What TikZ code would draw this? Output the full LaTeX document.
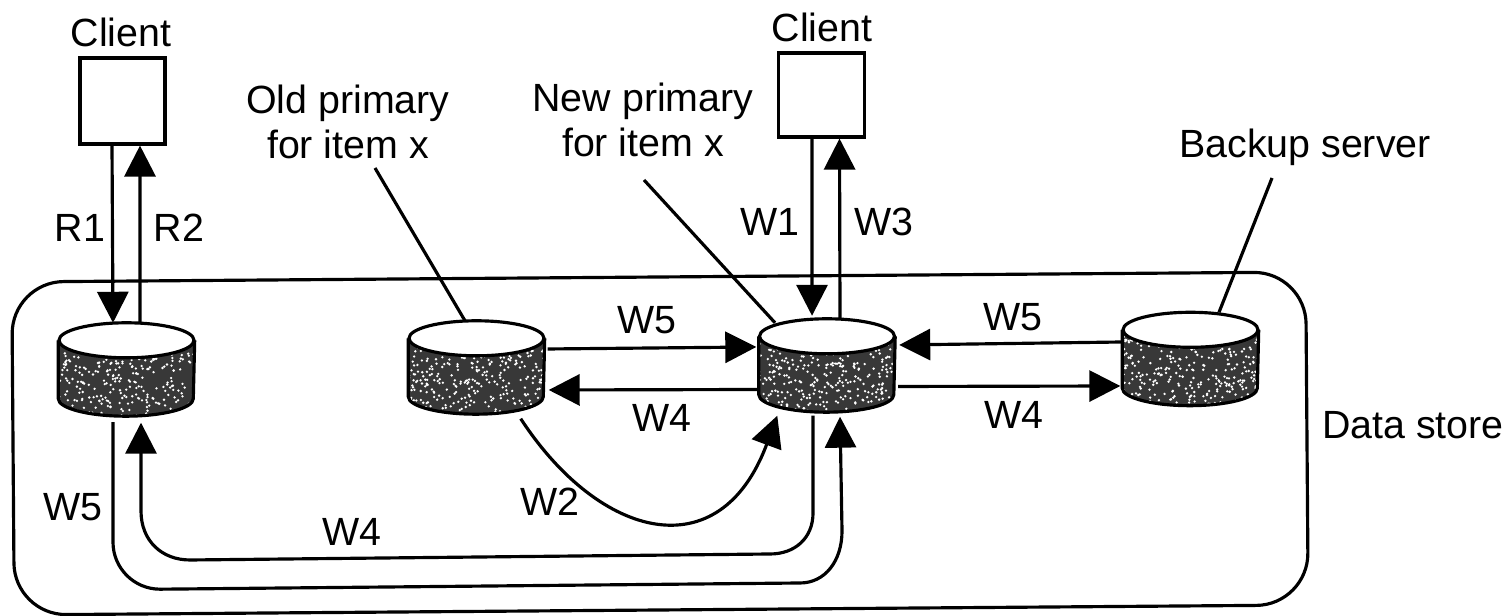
\documentclass[tikz,border=0pt]{standalone}
\usepackage{fontspec}
\setmainfont{Liberation Sans}
\usepackage{xcolor}
\usetikzlibrary{arrows.meta,positioning,calc}
\definecolor{diskgray}{gray}{0.22}
\tikzset{
  lbl/.style={font=\fontsize{11.2}{12.8}\selectfont,inner sep=0pt,align=center},
  hostbox/.style={draw,line width=.9pt,fill=white,inner sep=0pt},
  diskbox/.style={inner sep=0pt,minimum width=1.35cm,minimum height=.92cm},
  msg/.style={line width=.9pt,-{Triangle[length=3.1mm,width=3.1mm]}},
  plain/.style={line width=.9pt}
}
\begin{document}
\begin{tikzpicture}[>=Stealth]
\useasboundingbox (0,0) rectangle (15.11,6.16);
\pgfmathsetseed{42}
\node[draw,line width=.9pt,rounded corners=.52cm,inner sep=0pt,minimum width=12.94cm,minimum height=3.33cm,rotate=.44] (store) at (6.60,1.725) {};
% clients
\node[hostbox,minimum width=.85cm,minimum height=.86cm] (c1) at (1.225,5.15) {};
\node[hostbox,minimum width=.855cm,minimum height=.84cm] (c2) at (8.215,5.21) {};
\node[lbl] (cl1) at (1.21,5.84) {Client};
\node[lbl] (cl2) at (8.22,5.89) {Client};
% disks
\foreach \n/\x/\y in {d1/1.265/2.465,d2/4.765/2.485,d3/8.27/2.505,d4/11.905/2.57}{
  \node[diskbox] (\n) at (\x,\y) {};
  \begin{scope}
    \clip ($(\n.north west)+(0,-.175)$) -- ($(\n.south west)+(0,.175)$) arc[start angle=180,end angle=360,x radius=.675,y radius=.175] -- ($(\n.north east)+(0,-.175)$) -- cycle;
    \fill[diskgray] (\n.north west) rectangle (\n.south east);
    \foreach \k in {1,...,380}{
      \fill[white] ($(\n.center)+(rand*.68,rand*.47)$) circle (.013);
    }
  \end{scope}
  \draw[line width=.9pt] ($(\n.north west)+(0,-.175)$) -- ($(\n.south west)+(0,.175)$) arc[start angle=180,end angle=360,x radius=.675,y radius=.175] -- ($(\n.north east)+(0,-.175)$);
  \draw[line width=.9pt,fill=white] ($(\n.north)+(0,-.175)$) ellipse[x radius=.675,y radius=.175];
}
% client links
\draw[msg] ([xshift=-.105cm]c1.south) -- ([xshift=-.135cm]d1.north);
\draw[msg] ([xshift=.135cm]d1.north) -- ([xshift=.175cm]c1.south);
\draw[msg] ([xshift=-.095cm]c2.south) -- ([xshift=-.15cm,yshift=.03cm]d3.north);
\draw[msg] ([xshift=.13cm]d3.north) -- ([xshift=.18cm]c2.south);
% between disks
\draw[msg] ([xshift=.03cm,yshift=.185cm]d2.east) -- ([xshift=-.025cm,yshift=.185cm]d3.west);
\draw[msg] ([yshift=-.24cm]d3.west) -- ([xshift=.04cm,yshift=-.225cm]d2.east);
\draw[msg] ([yshift=.17cm]d4.west) -- ([xshift=.04cm,yshift=.205cm]d3.east);
\draw[msg] ([xshift=.03cm,yshift=-.21cm]d3.east) -- ([xshift=-.02cm,yshift=-.27cm]d4.west);
\draw[msg] ([xshift=-.24cm,yshift=-.045cm]d2.south east) .. controls (6.0,.76) and (7.2,.46) .. ([xshift=.185cm,yshift=-.035cm]d3.south west);
% long way round
\draw[plain] ([xshift=-.135cm,yshift=-.06cm]d1.south) -- ++(0,-1.20) arc[start angle=180,end angle=270,radius=.47] coordinate (w5a);
\draw[msg] (w5a) -- (8.0,.33) .. controls (8.25,.33) and (8.42,.55) .. (8.42,.85) -- ([xshift=.13cm,yshift=-.045cm]d3.south);
\draw[msg] ([xshift=-.14cm,yshift=-.035cm]d3.south) -- (8.13,1.03) .. controls (8.13,.78) and (7.95,.62) .. (7.7,.62) -- (1.9,.56) .. controls (1.62,.56) and (1.41,.75) .. (1.41,1.05) -- ([xshift=.145cm,yshift=-.065cm]d1.south);
% leaders
\node[lbl] (oldp) at (3.48,4.94) {Old primary\\for item x};
\node[lbl] (newp) at (6.43,4.96) {New primary\\for item x};
\node[lbl] (backup) at (13.05,4.69) {Backup server};
\node[lbl] (dstore) at (14.13,1.91) {Data store};
\coordinate (oldend) at (3.75,4.48);
\coordinate (newend) at (6.44,4.36);
\coordinate (backend) at (12.72,4.38);
\draw[plain] (oldend) -- ([xshift=-.115cm]d2.north);
\draw[plain] (newend) -- ([xshift=-.52cm,yshift=-.04cm]d3.north);
\draw[plain] (backend) -- ([xshift=.285cm]d4.north);
% labels
\node[lbl] (r1) at (.80,3.88) {R1};
\node[lbl] (r2) at (1.79,3.88) {R2};
\node[lbl] (w1) at (7.70,3.94) {W1};
\node[lbl] (w3) at (8.84,3.94) {W3};
\node[lbl] (w5m) at (6.47,2.96) {W5};
\node[lbl] (w4m) at (6.62,1.98) {W4};
\node[lbl] (w5r) at (10.13,2.99) {W5};
\node[lbl] (w4r) at (10.14,2.01) {W4};
\node[lbl] (w2) at (5.50,1.14) {W2};
\node[lbl] (w5l) at (.73,1.09) {W5};
\node[lbl] (w4l) at (3.52,.84) {W4};
\end{tikzpicture}
\end{document}
